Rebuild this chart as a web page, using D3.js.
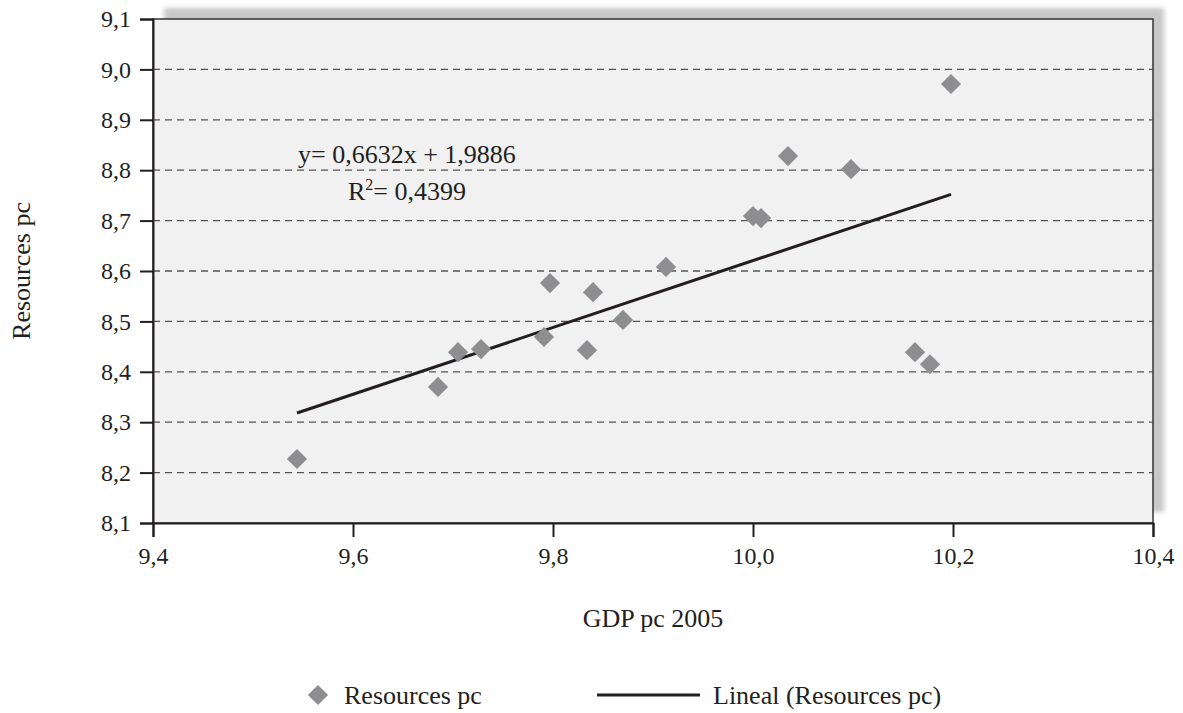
<!DOCTYPE html>
<html>
<head>
<meta charset="utf-8">
<script src="https://cdn.jsdelivr.net/npm/d3@7"></script>
<style>
  body { margin: 0; background: #fff; }
  svg text { font-family: "Liberation Serif", "Times New Roman", serif; fill: #231f20; }
  .axis text { font-family: "Liberation Serif", serif !important; font-size: 24px; }
</style>
</head>
<body>
<div id="chart"></div>
<script>
// GDP pc 2005 (x) and Resources pc (y)
var gdp = [9.544, 9.685, 9.705, 9.728, 9.791, 9.797, 9.834, 9.840, 9.870,
           9.913, 10.000, 10.008, 10.035, 10.098, 10.162, 10.177, 10.198];
var resources = [8.227, 8.370, 8.439, 8.445, 8.469, 8.576, 8.443, 8.558, 8.503,
                 8.608, 8.709, 8.705, 8.828, 8.802, 8.439, 8.415, 8.971];
var xTicks = [9.4, 9.6, 9.8, 10.0, 10.2, 10.4];
var yTicks = [8.1, 8.2, 8.3, 8.4, 8.5, 8.6, 8.7, 8.8, 8.9, 9.0, 9.1];
var slope = 0.6632, intercept = 1.9886, r2 = "0,4399";

var width = 1183, height = 713;
var margin = { top: 19, right: 30, bottom: 190, left: 153 };
var plotW = width - margin.left - margin.right;
var plotH = height - margin.top - margin.bottom;

var fmt = function(d) { return d3.format(".1f")(d).replace(".", ","); };

var svg = d3.select("#chart").append("svg")
    .attr("width", width)
    .attr("height", height);

var defs = svg.append("defs");
defs.append("filter").attr("id", "blur")
    .attr("x", "-5%").attr("y", "-5%").attr("width", "110%").attr("height", "110%")
    .append("feGaussianBlur").attr("stdDeviation", 2.5);

var x = d3.scaleLinear().domain([9.4, 10.4]).range([0, plotW]);
var y = d3.scaleLinear().domain([8.1, 9.1]).range([plotH, 0]);

var g = svg.append("g").attr("transform", "translate(" + margin.left + "," + margin.top + ")");

// shadow behind the plot area
g.append("rect")
    .attr("x", 11).attr("y", -11)
    .attr("width", plotW).attr("height", plotH)
    .attr("fill", "#c8c8c8")
    .attr("filter", "url(#blur)");

g.append("rect")
    .attr("width", plotW).attr("height", plotH)
    .attr("fill", "#f1f1f1")
    .attr("stroke", "#333")
    .attr("stroke-width", 1.5);

// dashed gridlines
g.selectAll(".grid")
    .data(yTicks.slice(1, -1))
    .enter().append("line")
    .attr("x1", 0).attr("x2", plotW)
    .attr("y1", function(d) { return y(d); })
    .attr("y2", function(d) { return y(d); })
    .attr("stroke", "#555")
    .attr("stroke-width", 1.3)
    .attr("stroke-dasharray", "7,5");

// axes
var xAxis = g.append("g")
    .attr("class", "axis")
    .attr("transform", "translate(0," + plotH + ")")
    .call(d3.axisBottom(x).tickValues(xTicks).tickFormat(fmt).tickSize(14).tickPadding(10));
var yAxis = g.append("g")
    .attr("class", "axis")
    .call(d3.axisLeft(y).tickValues(yTicks).tickFormat(fmt).tickSize(13).tickPadding(9));

[xAxis, yAxis].forEach(function(ax) {
    ax.attr("font-family", "Liberation Serif").attr("font-size", 24);
    ax.select(".domain").attr("stroke", "#231f20").attr("stroke-width", 2);
    ax.selectAll(".tick line").attr("stroke", "#231f20").attr("stroke-width", 2);
    ax.selectAll(".tick text").attr("fill", "#231f20");
});

// trend line
var xExt = d3.extent(gdp);
g.append("line")
    .attr("x1", x(xExt[0])).attr("y1", y(slope * xExt[0] + intercept))
    .attr("x2", x(xExt[1])).attr("y2", y(slope * xExt[1] + intercept))
    .attr("stroke", "#231f20")
    .attr("stroke-width", 3);

// points
var diamond = d3.symbol().type(d3.symbolDiamond2).size(260);
g.selectAll(".pt")
    .data(gdp)
    .enter().append("path")
    .attr("d", diamond)
    .attr("transform", function(d, i) { return "translate(" + x(d) + "," + y(resources[i]) + ")"; })
    .attr("fill", "#8e8e90");

// equation
var eq = g.append("text")
    .attr("x", 298 - margin.left).attr("y", 163 - margin.top)
    .style("font-size", "26px")
    .text("y= " + String(slope).replace(".", ",") + "x + " + String(intercept).replace(".", ","));
var rt = g.append("text")
    .attr("x", 348 - margin.left).attr("y", 200 - margin.top)
    .style("font-size", "26px");
rt.append("tspan").text("R");
rt.append("tspan").attr("dy", -10).style("font-size", "16px").text("2");
rt.append("tspan").attr("dy", 10).text("= " + r2);

// axis titles
svg.append("text")
    .attr("x", 653).attr("y", 627)
    .attr("text-anchor", "middle")
    .style("font-size", "26px")
    .text("GDP pc 2005");
svg.append("text")
    .attr("transform", "translate(30,271) rotate(-90)")
    .attr("text-anchor", "middle")
    .style("font-size", "26px")
    .text("Resources pc");

// legend
var leg = svg.append("g").attr("transform", "translate(0,695)");
leg.append("path")
    .attr("d", diamond)
    .attr("transform", "translate(318,0)")
    .attr("fill", "#8e8e90");
leg.append("text").attr("x", 344).attr("y", 9).style("font-size", "26px").text("Resources pc");
leg.append("line")
    .attr("x1", 597).attr("x2", 700).attr("y1", 0).attr("y2", 0)
    .attr("stroke", "#231f20").attr("stroke-width", 3);
leg.append("text").attr("x", 713).attr("y", 9).style("font-size", "26px").text("Lineal (Resources pc)");
</script>
</body>
</html>
